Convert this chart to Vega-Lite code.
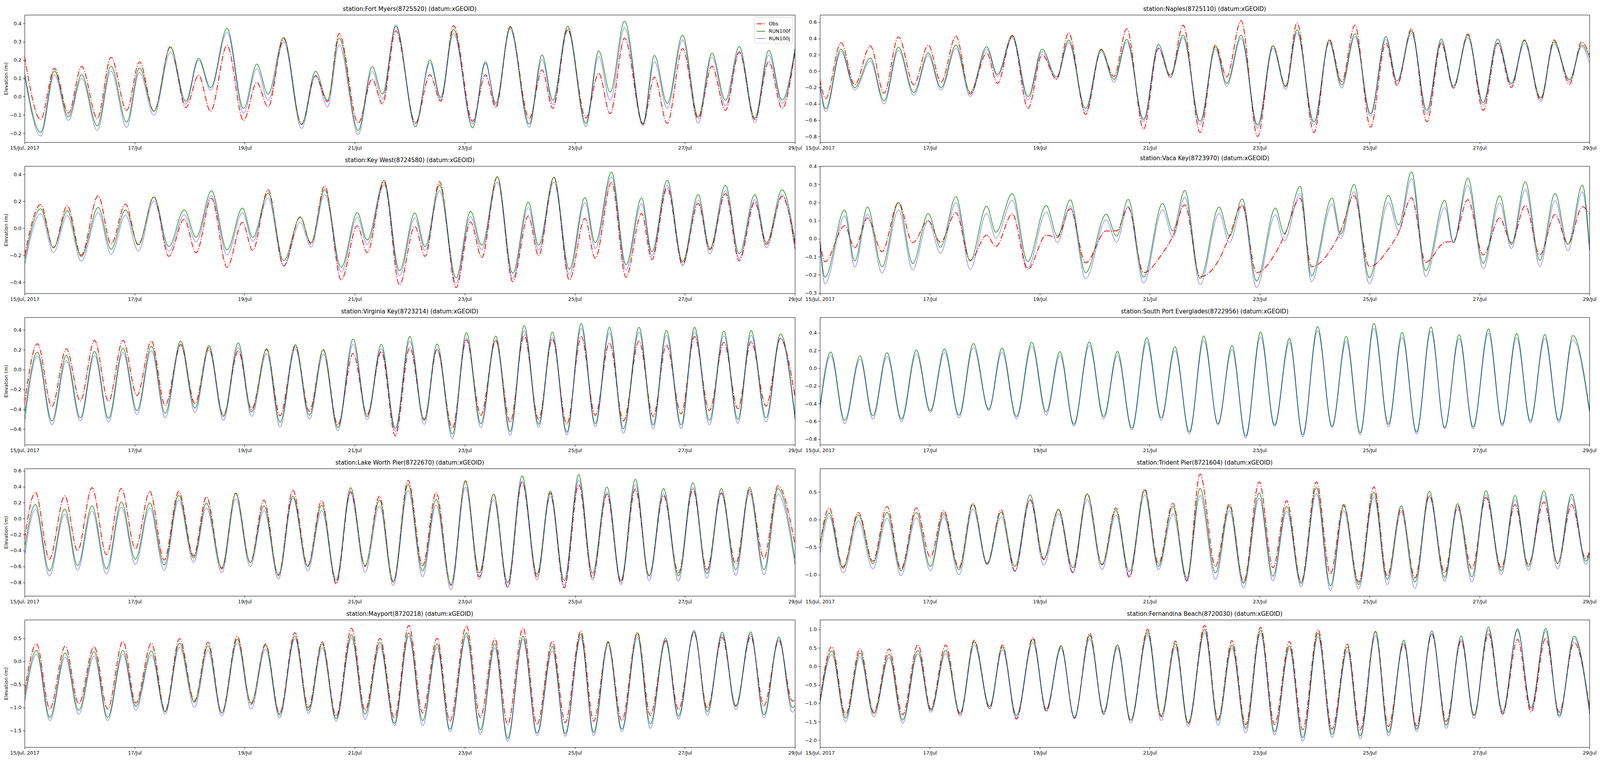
{
  "$schema": "https://vega.github.io/schema/vega-lite/v6.json",
  "background": "white",
  "padding": {"left": 8, "top": 15, "right": 2, "bottom": 2},
  "datasets": {
    "p0": [
      {"h":0,"o":0.22,"f":0.13,"j":0.115},{"h":7.0,"o":-0.125,"f":-0.195,"j":-0.215},{"h":13.0,"o":0.155,"f":0.14,"j":0.12},{"h":19.1,"o":-0.09,"f":-0.11,"j":-0.13},
      {"h":24.9,"o":0.165,"f":0.12,"j":0.10},{"h":31.7,"o":-0.12,"f":-0.16,"j":-0.185},{"h":37.7,"o":0.215,"f":0.167,"j":0.14},{"h":44.5,"o":-0.075,"f":-0.14,"j":-0.168},
      {"h":50.1,"o":0.19,"f":0.157,"j":0.133},{"h":56.4,"o":-0.08,"f":-0.08,"j":-0.103},{"h":63.6,"o":0.274,"f":0.27,"j":0.243},{"h":70.3,"o":-0.06,"f":-0.025,"j":-0.04},
      {"h":75.9,"o":0.117,"f":0.21,"j":0.2},{"h":81.1,"o":-0.08,"f":0.05,"j":0.035},{"h":88.3,"o":0.28,"f":0.373,"j":0.352},{"h":95.5,"o":-0.13,"f":-0.065,"j":-0.09},
      {"h":101.3,"o":0.078,"f":0.178,"j":0.153},{"h":106.2,"o":-0.057,"f":0.014,"j":-0.02},{"h":113.0,"o":0.317,"f":0.324,"j":0.3},{"h":120.8,"o":-0.15,"f":-0.153,"j":-0.174},
      {"h":126.9,"o":0.114,"f":0.139,"j":0.117},{"h":132.1,"o":-0.028,"f":-0.02,"j":-0.057},{"h":137.2,"o":0.345,"f":0.32,"j":0.285},{"h":145.5,"o":-0.145,"f":-0.185,"j":-0.206},
      {"h":151.6,"o":0.096,"f":0.164,"j":0.139},{"h":156.1,"o":-0.04,"f":0.014,"j":-0.014},{"h":161.9,"o":0.36,"f":0.384,"j":0.393},{"h":170.5,"o":-0.145,"f":-0.164,"j":-0.146},
      {"h":176.8,"o":0.12,"f":0.2,"j":0.186},{"h":181.5,"o":-0.025,"f":-0.004,"j":-0.018},{"h":187.1,"o":0.388,"f":0.367,"j":0.345},{"h":195.4,"o":-0.135,"f":-0.17,"j":-0.15},
      {"h":201.0,"o":0.12,"f":0.185,"j":0.194},{"h":205.5,"o":-0.06,"f":-0.036,"j":-0.05},{"h":211.8,"o":0.38,"f":0.384,"j":0.369},{"h":220.1,"o":-0.12,"f":-0.15,"j":-0.167},
      {"h":225.7,"o":0.146,"f":0.228,"j":0.203},{"h":230.4,"o":-0.064,"f":-0.02,"j":-0.043},{"h":236.9,"o":0.37,"f":0.384,"j":0.363},{"h":244.8,"o":-0.117,"f":-0.146,"j":-0.164},
      {"h":250.4,"o":0.128,"f":0.25,"j":0.22},{"h":255.4,"o":-0.093,"f":0.025,"j":-0.02},{"h":261.7,"o":0.32,"f":0.413,"j":0.377},{"h":269.7,"o":-0.15,"f":-0.146,"j":-0.16},
      {"h":274.7,"o":0.107,"f":0.225,"j":0.192},{"h":280.3,"o":-0.146,"f":-0.036,"j":-0.064},{"h":287.0,"o":0.263,"f":0.336,"j":0.31},{"h":293.8,"o":-0.12,"f":-0.11,"j":-0.146},
      {"h":299.8,"o":0.167,"f":0.238,"j":0.217},{"h":305.7,"o":-0.075,"f":-0.02,"j":-0.05},{"h":311.7,"o":0.242,"f":0.274,"j":0.249},{"h":318.5,"o":-0.125,"f":-0.117,"j":-0.142},
      {"h":324.6,"o":0.192,"f":0.253,"j":0.228},{"h":330.4,"o":-0.064,"f":-0.018,"j":-0.036},{"h":336,"o":0.242,"f":0.263,"j":0.242}
    ],
    "p1": [
      {"h":0,"o":-0.1,"f":-0.15,"j":-0.16},{"h":2.5,"o":-0.335,"f":-0.46,"j":-0.495},{"h":9.2,"o":0.35,"f":0.27,"j":0.24},{"h":15.2,"o":-0.167,"f":-0.2,"j":-0.23},
      {"h":22.0,"o":0.31,"f":0.16,"j":0.123},{"h":28.0,"o":-0.27,"f":-0.36,"j":-0.4},{"h":34.3,"o":0.42,"f":0.295,"j":0.255},{"h":41.0,"o":-0.167,"f":-0.26,"j":-0.295},
      {"h":47.3,"o":0.32,"f":0.223,"j":0.19},{"h":52.9,"o":-0.135,"f":-0.2,"j":-0.23},{"h":59.4,"o":0.43,"f":0.32,"j":0.28},{"h":65.6,"o":-0.28,"f":-0.26,"j":-0.31},
      {"h":72.8,"o":0.223,"f":0.3,"j":0.27},{"h":77.5,"o":-0.15,"f":-0.04,"j":-0.064},{"h":84.0,"o":0.43,"f":0.44,"j":0.41},{"h":90.9,"o":-0.455,"f":-0.31,"j":-0.35},
      {"h":97.0,"o":0.2,"f":0.27,"j":0.24},{"h":103.3,"o":-0.096,"f":-0.07,"j":-0.1},{"h":108.6,"o":0.47,"f":0.38,"j":0.35},{"h":116.0,"o":-0.53,"f":-0.455,"j":-0.495},
      {"h":122.8,"o":0.263,"f":0.27,"j":0.24},{"h":128.4,"o":-0.064,"f":-0.1,"j":-0.135},{"h":134.0,"o":0.52,"f":0.39,"j":0.36},{"h":141.3,"o":-0.71,"f":-0.59,"j":-0.62},
      {"h":147.8,"o":0.28,"f":0.327,"j":0.287},{"h":153.0,"o":-0.07,"f":-0.048,"j":-0.08},{"h":158.6,"o":0.563,"f":0.44,"j":0.41},{"h":166.0,"o":-0.75,"f":-0.614,"j":-0.654},
      {"h":172.7,"o":0.32,"f":0.3,"j":0.27},{"h":177.6,"o":-0.07,"f":-0.15,"j":-0.183},{"h":183.9,"o":0.62,"f":0.44,"j":0.4},{"h":191.1,"o":-0.8,"f":-0.66,"j":-0.7},
      {"h":197.8,"o":0.315,"f":0.31,"j":0.28},{"h":203.4,"o":-0.183,"f":-0.19,"j":-0.223},{"h":208.3,"o":0.59,"f":0.505,"j":0.47},{"h":215.7,"o":-0.75,"f":-0.62,"j":-0.66},
      {"h":222.4,"o":0.39,"f":0.375,"j":0.35},{"h":227.8,"o":-0.128,"f":-0.167,"j":-0.207},{"h":233.6,"o":0.566,"f":0.458,"j":0.423},{"h":240.4,"o":-0.686,"f":-0.52,"j":-0.55},
      {"h":247.1,"o":0.343,"f":0.423,"j":0.39},{"h":252.0,"o":-0.175,"f":-0.12,"j":-0.15},{"h":258.3,"o":0.52,"f":0.494,"j":0.462},{"h":265.0,"o":-0.62,"f":-0.48,"j":-0.526},
      {"h":271.3,"o":0.343,"f":0.394,"j":0.36},{"h":276.6,"o":-0.207,"f":-0.183,"j":-0.207},{"h":282.9,"o":0.455,"f":0.44,"j":0.41},{"h":289.6,"o":-0.48,"f":-0.383,"j":-0.415},
      {"h":295.9,"o":0.343,"f":0.394,"j":0.35},{"h":301.9,"o":-0.2,"f":-0.15,"j":-0.175},{"h":307.6,"o":0.383,"f":0.375,"j":0.343},{"h":314.7,"o":-0.35,"f":-0.327,"j":-0.375},
      {"h":320.5,"o":0.383,"f":0.36,"j":0.335},{"h":327.3,"o":-0.16,"f":-0.104,"j":-0.128},{"h":332.6,"o":0.36,"f":0.32,"j":0.3},{"h":336,"o":0.2,"f":0.167,"j":0.104}
    ],
    "p2": [
      {"h":0,"o":-0.2,"f":-0.24,"j":-0.276},{"h":7.0,"o":0.176,"f":0.145,"j":0.108},{"h":12.6,"o":-0.145,"f":-0.145,"j":-0.18},{"h":18.6,"o":0.167,"f":0.13,"j":0.094},
      {"h":24.7,"o":-0.2,"f":-0.21,"j":-0.244},{"h":32.1,"o":0.242,"f":0.155,"j":0.116},{"h":37.7,"o":-0.116,"f":-0.155,"j":-0.194},{"h":44.0,"o":0.18,"f":0.136,"j":0.097},
      {"h":49.6,"o":-0.126,"f":-0.12,"j":-0.17},{"h":56.4,"o":0.234,"f":0.232,"j":0.203},{"h":62.9,"o":-0.208,"f":-0.135,"j":-0.17},{"h":69.6,"o":0.068,"f":0.138,"j":0.1},
      {"h":74.8,"o":-0.182,"f":-0.066,"j":-0.1},{"h":81.5,"o":0.223,"f":0.278,"j":0.242},{"h":88.3,"o":-0.29,"f":-0.16,"j":-0.198},{"h":95.0,"o":0.044,"f":0.15,"j":0.116},
      {"h":99.5,"o":-0.165,"f":-0.068,"j":-0.097},{"h":106.2,"o":0.286,"f":0.26,"j":0.225},{"h":113.0,"o":-0.28,"f":-0.24,"j":-0.28},{"h":120.2,"o":0.085,"f":0.082,"j":0.044},
      {"h":124.9,"o":-0.116,"f":-0.107,"j":-0.14},{"h":130.9,"o":0.315,"f":0.286,"j":0.252},{"h":138.1,"o":-0.383,"f":-0.29,"j":-0.325},{"h":145.1,"o":0.019,"f":0.116,"j":0.082},
      {"h":149.4,"o":-0.18,"f":-0.087,"j":-0.12},{"h":156.8,"o":0.344,"f":0.356,"j":0.324},{"h":163.5,"o":-0.42,"f":-0.315,"j":-0.353},{"h":170.2,"o":0.015,"f":0.113,"j":0.077},
      {"h":174.7,"o":-0.208,"f":-0.135,"j":-0.165},{"h":181.0,"o":0.347,"f":0.32,"j":0.28},{"h":188.2,"o":-0.44,"f":-0.368,"j":-0.407},{"h":194.5,"o":0.048,"f":0.126,"j":0.087},
      {"h":199.4,"o":-0.218,"f":-0.126,"j":-0.16},{"h":206.2,"o":0.383,"f":0.383,"j":0.344},{"h":212.9,"o":-0.397,"f":-0.334,"j":-0.373},{"h":219.7,"o":0.092,"f":0.194,"j":0.155},
      {"h":224.2,"o":-0.203,"f":-0.126,"j":-0.16},{"h":230.9,"o":0.378,"f":0.38,"j":0.344},{"h":237.6,"o":-0.383,"f":-0.305,"j":-0.344},{"h":244.4,"o":0.073,"f":0.228,"j":0.19},
      {"h":248.9,"o":-0.223,"f":-0.107,"j":-0.15},{"h":256.0,"o":0.341,"f":0.418,"j":0.383},{"h":262.3,"o":-0.363,"f":-0.27,"j":-0.31},{"h":269.1,"o":0.111,"f":0.225,"j":0.184},
      {"h":273.6,"o":-0.232,"f":-0.174,"j":-0.203},{"h":280.3,"o":0.3,"f":0.356,"j":0.32},{"h":287.0,"o":-0.266,"f":-0.247,"j":-0.28},{"h":293.8,"o":0.184,"f":0.25,"j":0.211},
      {"h":298.9,"o":-0.16,"f":-0.15,"j":-0.189},{"h":305.7,"o":0.257,"f":0.32,"j":0.28},{"h":311.7,"o":-0.242,"f":-0.189,"j":-0.223},{"h":318.5,"o":0.194,"f":0.25,"j":0.213},
      {"h":323.6,"o":-0.12,"f":-0.107,"j":-0.145},{"h":330.4,"o":0.237,"f":0.286,"j":0.25},{"h":336,"o":-0.12,"f":-0.097,"j":-0.155}
    ],
    "p3": [
      {"h":0,"o":-0.014,"f":-0.014,"j":-0.02},{"h":2.2,"o":-0.128,"f":-0.213,"j":-0.25},{"h":10.8,"o":0.072,"f":0.159,"j":0.126},{"h":15.2,"o":-0.05,"f":-0.123,"j":-0.157},
      {"h":20.8,"o":0.115,"f":0.175,"j":0.137},{"h":27.1,"o":-0.072,"f":-0.155,"j":-0.19},{"h":34.3,"o":0.2,"f":0.2,"j":0.159},{"h":40.5,"o":-0.022,"f":-0.137,"j":-0.172},
      {"h":47.3,"o":0.1,"f":0.139,"j":0.1},{"h":52.6,"o":-0.02,"f":-0.047,"j":-0.08},{"h":59.4,"o":0.144,"f":0.232,"j":0.2},{"h":65.6,"o":-0.12,"f":-0.123,"j":-0.17},
      {"h":72.8,"o":0.02,"f":0.18,"j":0.14},{"h":76.8,"o":-0.043,"f":0.036,"j":0.004},{"h":84.0,"o":0.137,"f":0.25,"j":0.213},{"h":90.7,"o":-0.17,"f":-0.126,"j":-0.162},
      {"h":98.8,"o":0.02,"f":0.184,"j":0.148},{"h":103.7,"o":0.007,"f":0.014,"j":-0.022},{"h":109.3,"o":0.166,"f":0.215,"j":0.18},{"h":116.0,"o":-0.133,"f":-0.188,"j":-0.222},
      {"h":125.0,"o":0.043,"f":0.135,"j":0.105},{"h":129.5,"o":0.043,"f":0.014,"j":-0.02},{"h":134.6,"o":0.173,"f":0.218,"j":0.18},{"h":141.3,"o":-0.188,"f":-0.213,"j":-0.245},
      {"h":149.6,"o":-0.08,"f":0.195,"j":0.161},{"h":154.1,"o":0.014,"f":0.043,"j":0.007},{"h":159.3,"o":0.188,"f":0.267,"j":0.23},{"h":166.0,"o":-0.21,"f":-0.22,"j":-0.253},
      {"h":174.3,"o":-0.115,"f":0.175,"j":0.14},{"h":178.8,"o":0.014,"f":0.014,"j":-0.022},{"h":184.4,"o":0.188,"f":0.22,"j":0.182},{"h":190.6,"o":-0.188,"f":-0.234,"j":-0.27},
      {"h":198.9,"o":-0.08,"f":0.17,"j":0.133},{"h":202.7,"o":0.014,"f":0.029,"j":-0.014},{"h":209.7,"o":0.224,"f":0.29,"j":0.25},{"h":214.6,"o":-0.155,"f":-0.206,"j":-0.238},
      {"h":223.6,"o":-0.05,"f":0.225,"j":0.191},{"h":227.4,"o":0.043,"f":0.025,"j":0.0},{"h":233.2,"o":0.238,"f":0.3,"j":0.26},{"h":239.9,"o":-0.155,"f":-0.216,"j":-0.25},
      {"h":248.2,"o":-0.058,"f":0.24,"j":0.2},{"h":252.7,"o":0.036,"f":0.076,"j":0.043},{"h":258.3,"o":0.227,"f":0.37,"j":0.332},{"h":264.5,"o":-0.13,"f":-0.177,"j":-0.21},
      {"h":272.8,"o":-0.02,"f":0.213,"j":0.173},{"h":276.6,"o":-0.014,"f":-0.022,"j":-0.022},{"h":282.9,"o":0.216,"f":0.335,"j":0.296},{"h":289.6,"o":-0.09,"f":-0.136,"j":-0.166},
      {"h":296.8,"o":0.115,"f":0.238,"j":0.198},{"h":301.9,"o":-0.022,"f":-0.032,"j":-0.054},{"h":308.0,"o":0.184,"f":0.314,"j":0.273},{"h":314.3,"o":-0.09,"f":-0.119,"j":-0.152},
      {"h":321.0,"o":0.134,"f":0.25,"j":0.21},{"h":326.6,"o":-0.029,"f":-0.032,"j":-0.065},{"h":332.9,"o":0.177,"f":0.297,"j":0.26},{"h":336,"o":0.137,"f":-0.032,"j":-0.068}
    ],
    "p4": [
      {"h":0,"o":-0.34,"f":-0.46,"j":-0.53},{"h":5.6,"o":0.26,"f":0.177,"j":0.138},{"h":11.9,"o":-0.373,"f":-0.518,"j":-0.557},{"h":18.2,"o":0.21,"f":0.144,"j":0.092},
      {"h":24.3,"o":-0.315,"f":-0.485,"j":-0.518},{"h":30.5,"o":0.295,"f":0.183,"j":0.144},{"h":36.6,"o":-0.32,"f":-0.49,"j":-0.53},{"h":42.9,"o":0.295,"f":0.216,"j":0.173},
      {"h":49.0,"o":-0.26,"f":-0.413,"j":-0.452},{"h":55.3,"o":0.288,"f":0.236,"j":0.19},{"h":61.3,"o":-0.36,"f":-0.44,"j":-0.485},{"h":68.1,"o":0.255,"f":0.288,"j":0.242},
      {"h":74.3,"o":-0.34,"f":-0.387,"j":-0.433},{"h":80.4,"o":0.223,"f":0.242,"j":0.197},{"h":86.7,"o":-0.46,"f":-0.472,"j":-0.51},{"h":93.2,"o":0.19,"f":0.269,"j":0.223},
      {"h":99.0,"o":-0.4,"f":-0.426,"j":-0.472},{"h":105.6,"o":0.203,"f":0.21,"j":0.164},{"h":111.4,"o":-0.465,"f":-0.53,"j":-0.577},{"h":118.1,"o":0.236,"f":0.252,"j":0.21},
      {"h":124.2,"o":-0.42,"f":-0.46,"j":-0.5},{"h":130.3,"o":0.197,"f":0.203,"j":0.155},{"h":136.6,"o":-0.557,"f":-0.583,"j":-0.616},{"h":143.3,"o":0.164,"f":0.308,"j":0.255},
      {"h":149.4,"o":-0.452,"f":-0.472,"j":-0.505},{"h":155.6,"o":0.183,"f":0.255,"j":0.21},{"h":161.7,"o":-0.668,"f":-0.59,"j":-0.622},{"h":168.0,"o":0.223,"f":0.334,"j":0.288},
      {"h":174.3,"o":-0.5,"f":-0.51,"j":-0.553},{"h":179.9,"o":0.203,"f":0.258,"j":0.21},{"h":186.6,"o":-0.59,"f":-0.649,"j":-0.695},{"h":192.7,"o":0.3,"f":0.374,"j":0.321},
      {"h":199.0,"o":-0.46,"f":-0.544,"j":-0.583},{"h":205.5,"o":0.3,"f":0.338,"j":0.288},{"h":211.8,"o":-0.53,"f":-0.622,"j":-0.662},{"h":217.9,"o":0.347,"f":0.443,"j":0.393},
      {"h":224.2,"o":-0.5,"f":-0.55,"j":-0.583},{"h":230.2,"o":0.308,"f":0.377,"j":0.325},{"h":236.5,"o":-0.55,"f":-0.63,"j":-0.658},{"h":242.8,"o":0.334,"f":0.465,"j":0.42},
      {"h":248.9,"o":-0.46,"f":-0.544,"j":-0.577},{"h":255.1,"o":0.269,"f":0.426,"j":0.374},{"h":261.2,"o":-0.518,"f":-0.596,"j":-0.642},{"h":268.0,"o":0.288,"f":0.426,"j":0.377},
      {"h":274.2,"o":-0.472,"f":-0.557,"j":-0.596},{"h":279.9,"o":0.249,"f":0.396,"j":0.347},{"h":286.4,"o":-0.446,"f":-0.557,"j":-0.596},{"h":292.2,"o":0.334,"f":0.426,"j":0.38},
      {"h":298.7,"o":-0.413,"f":-0.51,"j":-0.557},{"h":305.0,"o":0.275,"f":0.387,"j":0.34},{"h":311.1,"o":-0.393,"f":-0.5,"j":-0.544},{"h":316.9,"o":0.282,"f":0.393,"j":0.347},
      {"h":323.4,"o":-0.367,"f":-0.485,"j":-0.527},{"h":329.7,"o":0.315,"f":0.36,"j":0.317},{"h":336,"o":-0.27,"f":-0.46,"j":-0.5}
    ],
    "p5": [
      {"h":0,"f":-0.44,"j":-0.485},{"h":4.7,"f":0.184,"j":0.147},{"h":10.8,"f":-0.588,"j":-0.625},{"h":17.5,"f":0.14,"j":0.103},
      {"h":23.1,"f":-0.537,"j":-0.573},{"h":29.3,"f":0.176,"j":0.135},{"h":35.6,"f":-0.573,"j":-0.603},{"h":42.1,"f":0.206,"j":0.162},
      {"h":48.2,"f":-0.478,"j":-0.5},{"h":54.4,"f":0.22,"j":0.18},{"h":60.7,"f":-0.53,"j":-0.56},{"h":67.0,"f":0.28,"j":0.235},
      {"h":73.7,"f":-0.463,"j":-0.478},{"h":79.5,"f":0.228,"j":0.184},{"h":85.8,"f":-0.544,"j":-0.573},{"h":92.5,"f":0.294,"j":0.25},
      {"h":98.8,"f":-0.493,"j":-0.53},{"h":104.8,"f":0.188,"j":0.147},{"h":110.9,"f":-0.632,"j":-0.654},{"h":117.6,"f":0.297,"j":0.257},
      {"h":123.9,"f":-0.544,"j":-0.573},{"h":129.9,"f":0.19,"j":0.147},{"h":136.2,"f":-0.676,"j":-0.7},{"h":142.7,"f":0.345,"j":0.3},
      {"h":149.0,"f":-0.56,"j":-0.588},{"h":155.0,"f":0.243,"j":0.2},{"h":161.3,"f":-0.72,"j":-0.743},{"h":167.6,"f":0.365,"j":0.316},
      {"h":173.8,"f":-0.625,"j":-0.64},{"h":179.9,"f":0.257,"j":0.213},{"h":185.9,"f":-0.765,"j":-0.79},{"h":192.4,"f":0.41,"j":0.356},
      {"h":198.5,"f":-0.64,"j":-0.66},{"h":205.0,"f":0.338,"j":0.294},{"h":210.8,"f":-0.75,"j":-0.776},{"h":217.3,"f":0.47,"j":0.426},
      {"h":223.6,"f":-0.654,"j":-0.673},{"h":229.8,"f":0.36,"j":0.31},{"h":235.9,"f":-0.728,"j":-0.753},{"h":241.9,"f":0.507,"j":0.456},
      {"h":248.2,"f":-0.632,"j":-0.662},{"h":254.2,"f":0.404,"j":0.353},{"h":260.5,"f":-0.72,"j":-0.743},{"h":266.8,"f":0.466,"j":0.42},
      {"h":272.8,"f":-0.67,"j":-0.684},{"h":279.1,"f":0.38,"j":0.338},{"h":285.2,"f":-0.662,"j":-0.684},{"h":291.9,"f":0.444,"j":0.397},
      {"h":297.9,"f":-0.632,"j":-0.654},{"h":304.2,"f":0.393,"j":0.345},{"h":310.2,"f":-0.596,"j":-0.618},{"h":316.5,"f":0.38,"j":0.338},
      {"h":322.6,"f":-0.588,"j":-0.615},{"h":328.8,"f":0.37,"j":0.323},{"h":336,"f":-0.463,"j":-0.493}
    ],
    "p6": [
      {"h":0,"o":-0.256,"f":-0.37,"j":-0.468},{"h":4.7,"o":0.331,"f":0.176,"j":0.116},{"h":10.8,"o":-0.509,"f":-0.656,"j":-0.72},{"h":17.5,"o":0.285,"f":0.119,"j":0.057},
      {"h":23.1,"o":-0.403,"f":-0.59,"j":-0.648},{"h":29.4,"o":0.388,"f":0.16,"j":0.095},{"h":35.7,"o":-0.452,"f":-0.631,"j":-0.697},{"h":42.2,"o":0.38,"f":0.209,"j":0.144},
      {"h":48.3,"o":-0.378,"f":-0.509,"j":-0.574},{"h":54.6,"o":0.34,"f":0.197,"j":0.135},{"h":60.9,"o":-0.52,"f":-0.582,"j":-0.648},{"h":67.2,"o":0.34,"f":0.29,"j":0.233},
      {"h":73.7,"o":-0.468,"f":-0.493,"j":-0.547},{"h":79.3,"o":0.274,"f":0.193,"j":0.135},{"h":86.0,"o":-0.631,"f":-0.615,"j":-0.68},{"h":92.1,"o":0.318,"f":0.315,"j":0.25},
      {"h":98.4,"o":-0.55,"f":-0.55,"j":-0.602},{"h":104.4,"o":0.233,"f":0.16,"j":0.103},{"h":110.7,"o":-0.713,"f":-0.705,"j":-0.759},{"h":117.0,"o":0.356,"f":0.282,"j":0.258},
      {"h":123.5,"o":-0.59,"f":-0.6,"j":-0.656},{"h":129.6,"o":0.225,"f":0.168,"j":0.103},{"h":135.9,"o":-0.82,"f":-0.77,"j":-0.803},{"h":142.2,"o":0.34,"f":0.388,"j":0.323},
      {"h":148.5,"o":-0.6,"f":-0.59,"j":-0.672},{"h":154.8,"o":0.282,"f":0.233,"j":0.16},{"h":160.8,"o":-0.795,"f":-0.786,"j":-0.84},{"h":167.3,"o":0.481,"f":0.429,"j":0.356},
      {"h":173.6,"o":-0.59,"f":-0.656,"j":-0.729},{"h":179.5,"o":0.328,"f":0.241,"j":0.171},{"h":186.0,"o":-0.835,"f":-0.827,"j":-0.892},{"h":192.3,"o":0.475,"f":0.47,"j":0.396},
      {"h":198.3,"o":-0.73,"f":-0.68,"j":-0.762},{"h":204.6,"o":0.307,"f":0.307,"j":0.241},{"h":210.7,"o":-0.86,"f":-0.803,"j":-0.868},{"h":217.0,"o":0.462,"f":0.535,"j":0.47},
      {"h":223.5,"o":-0.73,"f":-0.697,"j":-0.77},{"h":229.3,"o":0.323,"f":0.347,"j":0.285},{"h":235.4,"o":-0.868,"f":-0.778,"j":-0.835},{"h":241.7,"o":0.429,"f":0.551,"j":0.486},
      {"h":247.7,"o":-0.745,"f":-0.688,"j":-0.77},{"h":254.0,"o":0.307,"f":0.396,"j":0.331},{"h":260.1,"o":-0.803,"f":-0.778,"j":-0.827},{"h":266.4,"o":0.372,"f":0.494,"j":0.429},
      {"h":272.4,"o":-0.713,"f":-0.72,"j":-0.778},{"h":278.7,"o":0.29,"f":0.377,"j":0.315},{"h":285.2,"o":-0.68,"f":-0.72,"j":-0.786},{"h":291.5,"o":0.364,"f":0.449,"j":0.388},
      {"h":297.6,"o":-0.64,"f":-0.688,"j":-0.745},{"h":303.9,"o":0.323,"f":0.377,"j":0.315},{"h":310.2,"o":-0.566,"f":-0.64,"j":-0.713},{"h":316.2,"o":0.364,"f":0.393,"j":0.331},
      {"h":322.5,"o":-0.5,"f":-0.64,"j":-0.705},{"h":328.6,"o":0.413,"f":0.377,"j":0.307},{"h":336,"o":-0.32,"f":-0.5,"j":-0.574}
    ],
    "p7": [
      {"h":0,"o":-0.45,"f":-0.47,"j":-0.64},{"h":4.0,"o":0.212,"f":0.118,"j":0.059},{"h":10.1,"o":-0.86,"f":-0.885,"j":-0.967},{"h":16.8,"o":0.13,"f":0.083,"j":-0.024},
      {"h":23.1,"o":-0.755,"f":-0.8,"j":-0.896},{"h":29.3,"o":0.236,"f":0.13,"j":0.024},{"h":35.4,"o":-0.896,"f":-0.93,"j":-1.014},{"h":42.1,"o":0.212,"f":0.13,"j":0.035},
      {"h":48.2,"o":-0.684,"f":-0.85,"j":-0.93},{"h":54.0,"o":0.165,"f":0.106,"j":0.047},{"h":60.7,"o":-0.873,"f":-0.908,"j":-1.0},{"h":66.8,"o":0.295,"f":0.271,"j":0.189},
      {"h":73.0,"o":-0.8,"f":-0.79,"j":-0.825},{"h":79.1,"o":0.177,"f":0.13,"j":0.047},{"h":85.1,"o":-0.93,"f":-0.85,"j":-0.943},{"h":91.8,"o":0.365,"f":0.448,"j":0.354},
      {"h":97.7,"o":-0.73,"f":-0.708,"j":-0.825},{"h":104.2,"o":0.177,"f":0.189,"j":0.106},{"h":110.4,"o":-0.955,"f":-0.873,"j":-0.967},{"h":116.7,"o":0.472,"f":0.46,"j":0.365},
      {"h":123.2,"o":-0.814,"f":-0.825,"j":-0.908},{"h":129.2,"o":0.212,"f":0.165,"j":0.083},{"h":135.1,"o":-1.05,"f":-0.943,"j":-1.026},{"h":141.8,"o":0.554,"f":0.531,"j":0.448},
      {"h":147.8,"o":-0.8,"f":-0.85,"j":-0.908},{"h":154.1,"o":0.295,"f":0.236,"j":0.106},{"h":160.2,"o":-1.108,"f":-1.06,"j":-1.12},{"h":166.0,"o":0.825,"f":0.566,"j":0.436},
      {"h":172.7,"o":-0.85,"f":-0.967,"j":-1.085},{"h":178.8,"o":0.283,"f":0.248,"j":0.165},{"h":185.0,"o":-1.132,"f":-1.156,"j":-1.24},{"h":191.8,"o":0.684,"f":0.483,"j":0.389},
      {"h":197.8,"o":-0.873,"f":-1.026,"j":-1.113},{"h":203.8,"o":0.342,"f":0.236,"j":0.153},{"h":210.1,"o":-1.132,"f":-1.156,"j":-1.215},{"h":216.8,"o":0.684,"f":0.578,"j":0.472},
      {"h":222.9,"o":-0.99,"f":-1.2,"j":-1.285},{"h":228.7,"o":0.271,"f":0.248,"j":0.165},{"h":235.2,"o":-1.132,"f":-1.18,"j":-1.26},{"h":241.9,"o":0.594,"f":0.495,"j":0.413},
      {"h":247.7,"o":-1.026,"f":-1.085,"j":-1.18},{"h":253.8,"o":0.2,"f":0.248,"j":0.142},{"h":259.8,"o":-1.06,"f":-1.132,"j":-1.25},{"h":266.1,"o":0.436,"f":0.512,"j":0.425},
      {"h":272.8,"o":-0.967,"f":-1.05,"j":-1.12},{"h":278.4,"o":0.248,"f":0.288,"j":0.2},{"h":284.7,"o":-0.896,"f":-1.038,"j":-1.132},{"h":290.8,"o":0.4,"f":0.524,"j":0.448},
      {"h":297.5,"o":-0.873,"f":-0.93,"j":-1.0},{"h":303.5,"o":0.271,"f":0.436,"j":0.358},{"h":309.3,"o":-0.814,"f":-0.85,"j":-0.92},{"h":316.1,"o":0.318,"f":0.519,"j":0.448},
      {"h":322.1,"o":-0.79,"f":-0.8,"j":-0.896},{"h":328.2,"o":0.271,"f":0.46,"j":0.389},{"h":334.4,"o":-0.708,"f":-0.755,"j":-0.814},{"h":336,"o":-0.566,"f":-0.613,"j":-0.66}
    ],
    "p8": [
      {"h":0,"o":-0.635,"f":-0.775,"j":-0.888},{"h":5.2,"o":0.38,"f":0.24,"j":0.155},{"h":11.0,"o":-1.03,"f":-1.213,"j":-1.283},{"h":17.7,"o":0.33,"f":0.183,"j":0.093},
      {"h":23.6,"o":-0.917,"f":-1.058,"j":-1.142},{"h":30.3,"o":0.324,"f":0.21,"j":0.113},{"h":36.2,"o":-1.03,"f":-1.213,"j":-1.283},{"h":42.9,"o":0.437,"f":0.24,"j":0.155},
      {"h":48.5,"o":-0.902,"f":-0.973,"j":-1.058},{"h":55.3,"o":0.395,"f":0.226,"j":0.141},{"h":61.3,"o":-1.072,"f":-1.086,"j":-1.137},{"h":67.6,"o":0.494,"f":0.395,"j":0.31},
      {"h":74.1,"o":-0.86,"f":-0.888,"j":-1.0},{"h":80.0,"o":0.415,"f":0.338,"j":0.24},{"h":86.0,"o":-1.114,"f":-1.114,"j":-1.184},{"h":92.8,"o":0.544,"f":0.48,"j":0.403},
      {"h":98.8,"o":-0.93,"f":-0.902,"j":-1.03},{"h":105.1,"o":0.38,"f":0.352,"j":0.268},{"h":111.2,"o":-1.128,"f":-1.156,"j":-1.227},{"h":117.9,"o":0.62,"f":0.55,"j":0.494},
      {"h":123.8,"o":-1.0,"f":-1.058,"j":-1.128},{"h":129.8,"o":0.423,"f":0.38,"j":0.296},{"h":135.9,"o":-1.184,"f":-1.24,"j":-1.297},{"h":142.6,"o":0.72,"f":0.578,"j":0.508},
      {"h":148.5,"o":-1.058,"f":-1.142,"j":-1.255},{"h":155.0,"o":0.5,"f":0.409,"j":0.324},{"h":161.3,"o":-1.227,"f":-1.34,"j":-1.396},{"h":167.6,"o":0.78,"f":0.62,"j":0.55},
      {"h":173.6,"o":-1.114,"f":-1.283,"j":-1.396},{"h":179.9,"o":0.5,"f":0.38,"j":0.302},{"h":185.5,"o":-1.297,"f":-1.466,"j":-1.523},{"h":192.7,"o":0.77,"f":0.62,"j":0.55},
      {"h":198.8,"o":-1.213,"f":-1.48,"j":-1.579},{"h":205.1,"o":0.494,"f":0.38,"j":0.296},{"h":210.7,"o":-1.368,"f":-1.664,"j":-1.734},{"h":217.4,"o":0.725,"f":0.544,"j":0.48},
      {"h":223.5,"o":-1.368,"f":-1.551,"j":-1.607},{"h":230.2,"o":0.437,"f":0.324,"j":0.226},{"h":235.8,"o":-1.325,"f":-1.565,"j":-1.622},{"h":242.6,"o":0.657,"f":0.592,"j":0.522},
      {"h":248.2,"o":-1.297,"f":-1.537,"j":-1.607},{"h":254.5,"o":0.409,"f":0.431,"j":0.352},{"h":260.5,"o":-1.283,"f":-1.466,"j":-1.523},{"h":267.3,"o":0.626,"f":0.606,"j":0.522},
      {"h":272.9,"o":-1.17,"f":-1.354,"j":-1.452},{"h":279.6,"o":0.451,"f":0.508,"j":0.437},{"h":285.2,"o":-1.044,"f":-1.184,"j":-1.255},{"h":292.0,"o":0.62,"f":0.668,"j":0.635},
      {"h":297.8,"o":-1.015,"f":-1.086,"j":-1.17},{"h":304.3,"o":0.522,"f":0.635,"j":0.584},{"h":310.2,"o":-0.959,"f":-0.973,"j":-1.044},{"h":316.7,"o":0.544,"f":0.64,"j":0.592},
      {"h":322.5,"o":-0.959,"f":-1.156,"j":-1.227},{"h":329.0,"o":0.451,"f":0.527,"j":0.48},{"h":334.9,"o":-0.86,"f":-1.0,"j":-1.1},{"h":336,"o":-0.832,"f":-0.96,"j":-1.03}
    ],
    "p9": [
      {"h":0,"o":-0.907,"f":-0.977,"j":-1.048},{"h":5.2,"o":0.533,"f":0.416,"j":0.321},{"h":11.2,"o":-1.313,"f":-1.4,"j":-1.5},{"h":17.5,"o":0.476,"f":0.363,"j":0.258},
      {"h":23.5,"o":-1.242,"f":-1.277,"j":-1.366},{"h":30.2,"o":0.469,"f":0.328,"j":0.24},{"h":36.1,"o":-1.313,"f":-1.454,"j":-1.542},{"h":42.8,"o":0.593,"f":0.434,"j":0.346},
      {"h":48.4,"o":-1.154,"f":-1.19,"j":-1.242},{"h":54.9,"o":0.582,"f":0.434,"j":0.346},{"h":61.2,"o":-1.313,"f":-1.26,"j":-1.348},{"h":67.4,"o":0.71,"f":0.663,"j":0.575},
      {"h":74.1,"o":-1.136,"f":-1.083,"j":-1.154},{"h":79.7,"o":0.582,"f":0.533,"j":0.452},{"h":85.8,"o":-1.429,"f":-1.33,"j":-1.4},{"h":93.0,"o":0.787,"f":0.734,"j":0.646},
      {"h":98.8,"o":-1.224,"f":-1.154,"j":-1.207},{"h":105.3,"o":0.54,"f":0.558,"j":0.487},{"h":111.1,"o":-1.4,"f":-1.383,"j":-1.418},{"h":117.8,"o":0.893,"f":0.84,"j":0.745},
      {"h":123.9,"o":-1.295,"f":-1.242,"j":-1.295},{"h":129.9,"o":0.582,"f":0.582,"j":0.505},{"h":135.7,"o":-1.471,"f":-1.454,"j":-1.535},{"h":143.1,"o":1.006,"f":0.935,"j":0.857},
      {"h":149.0,"o":-1.366,"f":-1.33,"j":-1.471},{"h":155.2,"o":0.688,"f":0.61,"j":0.522},{"h":160.8,"o":-1.56,"f":-1.524,"j":-1.63},{"h":168.0,"o":1.111,"f":0.999,"j":0.91},
      {"h":173.8,"o":-1.436,"f":-1.471,"j":-1.595},{"h":179.9,"o":0.699,"f":0.575,"j":0.505},{"h":185.9,"o":-1.584,"f":-1.683,"j":-1.807},{"h":192.4,"o":1.062,"f":0.981,"j":0.893},
      {"h":198.5,"o":-1.577,"f":-1.771,"j":-1.86},{"h":205.0,"o":0.674,"f":0.558,"j":0.487},{"h":210.8,"o":-1.718,"f":-1.93,"j":-2.036},{"h":217.5,"o":0.999,"f":0.893,"j":0.805},
      {"h":223.6,"o":-1.701,"f":-1.842,"j":-1.93},{"h":230.3,"o":0.603,"f":0.522,"j":0.416},{"h":235.9,"o":-1.718,"f":-1.877,"j":-1.965},{"h":242.6,"o":0.946,"f":0.946,"j":0.84},
      {"h":248.2,"o":-1.63,"f":-1.789,"j":-1.888},{"h":254.9,"o":0.61,"f":0.709,"j":0.628},{"h":260.5,"o":-1.613,"f":-1.701,"j":-1.771},{"h":267.2,"o":0.875,"f":0.956,"j":0.886},
      {"h":273.5,"o":-1.489,"f":-1.595,"j":-1.683},{"h":280.0,"o":0.699,"f":0.822,"j":0.734},{"h":285.6,"o":-1.313,"f":-1.33,"j":-1.418},{"h":291.9,"o":0.893,"f":1.062,"j":0.988},
      {"h":298.1,"o":-1.277,"f":-1.224,"j":-1.313},{"h":304.6,"o":0.734,"f":1.016,"j":0.981},{"h":310.5,"o":-1.242,"f":-1.119,"j":-1.171},{"h":316.9,"o":0.769,"f":1.027,"j":0.946},
      {"h":322.8,"o":-1.242,"f":-1.33,"j":-1.383},{"h":329.3,"o":0.646,"f":0.822,"j":0.759},{"h":336,"o":-1.083,"f":-1.171,"j":-1.277}
    ]
  },
  "columns": 2,
  "bounds": "flush",
  "spacing": {"row": 61, "column": 64},
  "concat": [
    {
      "title": "station:Fort Myers(8725520) (datum:xGEOID)",
      "width": 1972, "height": 326,
      "data": {"name": "p0"},
      "transform": [{"fold": ["o", "f", "j"], "as": ["s", "v"]}],
      "mark": {"type": "line", "interpolate": "monotone"},
      "encoding": {
        "x": {"field": "h", "type": "quantitative", "scale": {"domain": [0, 336], "nice": false, "zero": false},
              "axis": {"values": [0, 48, 96, 144, 192, 240, 288, 336], "labelExpr": "datum.value == 0 ? '15/Jul, 2017' : (15 + datum.value / 24) + '/Jul'", "title": null}},
        "y": {"field": "v", "type": "quantitative", "scale": {"domain": [-0.249, 0.447], "nice": false, "zero": false},
              "axis": {"values": [-0.2, -0.1, 0, 0.1, 0.2, 0.3, 0.4], "format": ".1f", "title": "Elevation (m)"}},
        "color": {"field": "s", "type": "nominal", "scale": {"domain": ["o", "f", "j"], "range": ["#ff0000", "#008000", "#0000ff"]},
                  "legend": {"orient": "top-right", "title": null, "labelExpr": "datum.label == 'o' ? 'Obs' : datum.label == 'f' ? 'RUN100f' : 'RUN100j'"}},
        "strokeDash": {"field": "s", "type": "nominal", "scale": {"domain": ["o", "f", "j"], "range": [[15, 3.8, 2.4, 3.8], [1, 0], [1, 0]]},
                  "legend": {"orient": "top-right", "title": null, "labelExpr": "datum.label == 'o' ? 'Obs' : datum.label == 'f' ? 'RUN100f' : 'RUN100j'"}},
        "strokeWidth": {"field": "s", "type": "nominal", "scale": {"domain": ["o", "f", "j"], "range": [2, 0.9, 0.9]},
                  "legend": {"orient": "top-right", "title": null, "labelExpr": "datum.label == 'o' ? 'Obs' : datum.label == 'f' ? 'RUN100f' : 'RUN100j'"}}
      }
    },
    {
      "title": "station:Naples(8725110) (datum:xGEOID)",
      "width": 1970, "height": 326,
      "data": {"name": "p1"},
      "transform": [{"fold": ["o", "f", "j"], "as": ["s", "v"]}],
      "mark": {"type": "line", "interpolate": "monotone"},
      "encoding": {
        "x": {"field": "h", "type": "quantitative", "scale": {"domain": [0, 336], "nice": false, "zero": false},
              "axis": {"values": [0, 48, 96, 144, 192, 240, 288, 336], "labelExpr": "datum.value == 0 ? '15/Jul, 2017' : (15 + datum.value / 24) + '/Jul'", "title": null}},
        "y": {"field": "v", "type": "quantitative", "scale": {"domain": [-0.87, 0.69], "nice": false, "zero": false},
              "axis": {"values": [-0.8, -0.6, -0.4, -0.2, 0, 0.2, 0.4, 0.6], "format": ".1f", "title": null}},
        "color": {"field": "s", "type": "nominal", "scale": {"domain": ["o", "f", "j"], "range": ["#ff0000", "#008000", "#0000ff"]}, "legend": null},
        "strokeDash": {"field": "s", "type": "nominal", "scale": {"domain": ["o", "f", "j"], "range": [[15, 3.8, 2.4, 3.8], [1, 0], [1, 0]]}, "legend": null},
        "strokeWidth": {"field": "s", "type": "nominal", "scale": {"domain": ["o", "f", "j"], "range": [2, 0.9, 0.9]}, "legend": null}
      }
    },
    {
      "title": "station:Key West(8724580) (datum:xGEOID)",
      "width": 1972, "height": 326,
      "data": {"name": "p2"},
      "transform": [{"fold": ["o", "f", "j"], "as": ["s", "v"]}],
      "mark": {"type": "line", "interpolate": "monotone"},
      "encoding": {
        "x": {"field": "h", "type": "quantitative", "scale": {"domain": [0, 336], "nice": false, "zero": false},
              "axis": {"values": [0, 48, 96, 144, 192, 240, 288, 336], "labelExpr": "datum.value == 0 ? '15/Jul, 2017' : (15 + datum.value / 24) + '/Jul'", "title": null}},
        "y": {"field": "v", "type": "quantitative", "scale": {"domain": [-0.484, 0.462], "nice": false, "zero": false},
              "axis": {"values": [-0.4, -0.2, 0, 0.2, 0.4], "format": ".1f", "title": "Elevation (m)"}},
        "color": {"field": "s", "type": "nominal", "scale": {"domain": ["o", "f", "j"], "range": ["#ff0000", "#008000", "#0000ff"]}, "legend": null},
        "strokeDash": {"field": "s", "type": "nominal", "scale": {"domain": ["o", "f", "j"], "range": [[15, 3.8, 2.4, 3.8], [1, 0], [1, 0]]}, "legend": null},
        "strokeWidth": {"field": "s", "type": "nominal", "scale": {"domain": ["o", "f", "j"], "range": [2, 0.9, 0.9]}, "legend": null}
      }
    },
    {
      "title": "station:Vaca Key(8723970) (datum:xGEOID)",
      "width": 1970, "height": 326,
      "data": {"name": "p3"},
      "transform": [{"fold": ["o", "f", "j"], "as": ["s", "v"]}],
      "mark": {"type": "line", "interpolate": "monotone"},
      "encoding": {
        "x": {"field": "h", "type": "quantitative", "scale": {"domain": [0, 336], "nice": false, "zero": false},
              "axis": {"values": [0, 48, 96, 144, 192, 240, 288, 336], "labelExpr": "datum.value == 0 ? '15/Jul, 2017' : (15 + datum.value / 24) + '/Jul'", "title": null}},
        "y": {"field": "v", "type": "quantitative", "scale": {"domain": [-0.303, 0.402], "nice": false, "zero": false},
              "axis": {"values": [-0.3, -0.2, -0.1, 0, 0.1, 0.2, 0.3, 0.4], "format": ".1f", "title": null}},
        "color": {"field": "s", "type": "nominal", "scale": {"domain": ["o", "f", "j"], "range": ["#ff0000", "#008000", "#0000ff"]}, "legend": null},
        "strokeDash": {"field": "s", "type": "nominal", "scale": {"domain": ["o", "f", "j"], "range": [[15, 3.8, 2.4, 3.8], [1, 0], [1, 0]]}, "legend": null},
        "strokeWidth": {"field": "s", "type": "nominal", "scale": {"domain": ["o", "f", "j"], "range": [2, 0.9, 0.9]}, "legend": null}
      }
    },
    {
      "title": "station:Virginia Key(8723214) (datum:xGEOID)",
      "width": 1972, "height": 326,
      "data": {"name": "p4"},
      "transform": [{"fold": ["o", "f", "j"], "as": ["s", "v"]}],
      "mark": {"type": "line", "interpolate": "monotone"},
      "encoding": {
        "x": {"field": "h", "type": "quantitative", "scale": {"domain": [0, 336], "nice": false, "zero": false},
              "axis": {"values": [0, 48, 96, 144, 192, 240, 288, 336], "labelExpr": "datum.value == 0 ? '15/Jul, 2017' : (15 + datum.value / 24) + '/Jul'", "title": null}},
        "y": {"field": "v", "type": "quantitative", "scale": {"domain": [-0.756, 0.527], "nice": false, "zero": false},
              "axis": {"values": [-0.6, -0.4, -0.2, 0, 0.2, 0.4], "format": ".1f", "title": "Elevation (m)"}},
        "color": {"field": "s", "type": "nominal", "scale": {"domain": ["o", "f", "j"], "range": ["#ff0000", "#008000", "#0000ff"]}, "legend": null},
        "strokeDash": {"field": "s", "type": "nominal", "scale": {"domain": ["o", "f", "j"], "range": [[15, 3.8, 2.4, 3.8], [1, 0], [1, 0]]}, "legend": null},
        "strokeWidth": {"field": "s", "type": "nominal", "scale": {"domain": ["o", "f", "j"], "range": [2, 0.9, 0.9]}, "legend": null}
      }
    },
    {
      "title": "station:South Port Everglades(8722956) (datum:xGEOID)",
      "width": 1970, "height": 326,
      "data": {"name": "p5"},
      "transform": [{"fold": ["f", "j"], "as": ["s", "v"]}],
      "mark": {"type": "line", "interpolate": "monotone"},
      "encoding": {
        "x": {"field": "h", "type": "quantitative", "scale": {"domain": [0, 336], "nice": false, "zero": false},
              "axis": {"values": [0, 48, 96, 144, 192, 240, 288, 336], "labelExpr": "datum.value == 0 ? '15/Jul, 2017' : (15 + datum.value / 24) + '/Jul'", "title": null}},
        "y": {"field": "v", "type": "quantitative", "scale": {"domain": [-0.863, 0.576], "nice": false, "zero": false},
              "axis": {"values": [-0.8, -0.6, -0.4, -0.2, 0, 0.2, 0.4], "format": ".1f", "title": null}},
        "color": {"field": "s", "type": "nominal", "scale": {"domain": ["o", "f", "j"], "range": ["#ff0000", "#008000", "#0000ff"]}, "legend": null},
        "strokeDash": {"field": "s", "type": "nominal", "scale": {"domain": ["o", "f", "j"], "range": [[15, 3.8, 2.4, 3.8], [1, 0], [1, 0]]}, "legend": null},
        "strokeWidth": {"field": "s", "type": "nominal", "scale": {"domain": ["o", "f", "j"], "range": [2, 0.9, 0.9]}, "legend": null}
      }
    },
    {
      "title": "station:Lake Worth Pier(8722670) (datum:xGEOID)",
      "width": 1972, "height": 326,
      "data": {"name": "p6"},
      "transform": [{"fold": ["o", "f", "j"], "as": ["s", "v"]}],
      "mark": {"type": "line", "interpolate": "monotone"},
      "encoding": {
        "x": {"field": "h", "type": "quantitative", "scale": {"domain": [0, 336], "nice": false, "zero": false},
              "axis": {"values": [0, 48, 96, 144, 192, 240, 288, 336], "labelExpr": "datum.value == 0 ? '15/Jul, 2017' : (15 + datum.value / 24) + '/Jul'", "title": null}},
        "y": {"field": "v", "type": "quantitative", "scale": {"domain": [-0.969, 0.628], "nice": false, "zero": false},
              "axis": {"values": [-0.8, -0.6, -0.4, -0.2, 0, 0.2, 0.4, 0.6], "format": ".1f", "title": "Elevation (m)"}},
        "color": {"field": "s", "type": "nominal", "scale": {"domain": ["o", "f", "j"], "range": ["#ff0000", "#008000", "#0000ff"]}, "legend": null},
        "strokeDash": {"field": "s", "type": "nominal", "scale": {"domain": ["o", "f", "j"], "range": [[15, 3.8, 2.4, 3.8], [1, 0], [1, 0]]}, "legend": null},
        "strokeWidth": {"field": "s", "type": "nominal", "scale": {"domain": ["o", "f", "j"], "range": [2, 0.9, 0.9]}, "legend": null}
      }
    },
    {
      "title": "station:Trident Pier(8721604) (datum:xGEOID)",
      "width": 1970, "height": 326,
      "data": {"name": "p7"},
      "transform": [{"fold": ["o", "f", "j"], "as": ["s", "v"]}],
      "mark": {"type": "line", "interpolate": "monotone"},
      "encoding": {
        "x": {"field": "h", "type": "quantitative", "scale": {"domain": [0, 336], "nice": false, "zero": false},
              "axis": {"values": [0, 48, 96, 144, 192, 240, 288, 336], "labelExpr": "datum.value == 0 ? '15/Jul, 2017' : (15 + datum.value / 24) + '/Jul'", "title": null}},
        "y": {"field": "v", "type": "quantitative", "scale": {"domain": [-1.384, 0.925], "nice": false, "zero": false},
              "axis": {"values": [-1.0, -0.5, 0, 0.5], "format": ".1f", "title": null}},
        "color": {"field": "s", "type": "nominal", "scale": {"domain": ["o", "f", "j"], "range": ["#ff0000", "#008000", "#0000ff"]}, "legend": null},
        "strokeDash": {"field": "s", "type": "nominal", "scale": {"domain": ["o", "f", "j"], "range": [[15, 3.8, 2.4, 3.8], [1, 0], [1, 0]]}, "legend": null},
        "strokeWidth": {"field": "s", "type": "nominal", "scale": {"domain": ["o", "f", "j"], "range": [2, 0.9, 0.9]}, "legend": null}
      }
    },
    {
      "title": "station:Mayport(8720218) (datum:xGEOID)",
      "width": 1972, "height": 326,
      "data": {"name": "p8"},
      "transform": [{"fold": ["o", "f", "j"], "as": ["s", "v"]}],
      "mark": {"type": "line", "interpolate": "monotone"},
      "encoding": {
        "x": {"field": "h", "type": "quantitative", "scale": {"domain": [0, 336], "nice": false, "zero": false},
              "axis": {"values": [0, 48, 96, 144, 192, 240, 288, 336], "labelExpr": "datum.value == 0 ? '15/Jul, 2017' : (15 + datum.value / 24) + '/Jul'", "title": null}},
        "y": {"field": "v", "type": "quantitative", "scale": {"domain": [-1.856, 0.902], "nice": false, "zero": false},
              "axis": {"values": [-1.5, -1.0, -0.5, 0, 0.5], "format": ".1f", "title": "Elevation (m)"}},
        "color": {"field": "s", "type": "nominal", "scale": {"domain": ["o", "f", "j"], "range": ["#ff0000", "#008000", "#0000ff"]}, "legend": null},
        "strokeDash": {"field": "s", "type": "nominal", "scale": {"domain": ["o", "f", "j"], "range": [[15, 3.8, 2.4, 3.8], [1, 0], [1, 0]]}, "legend": null},
        "strokeWidth": {"field": "s", "type": "nominal", "scale": {"domain": ["o", "f", "j"], "range": [2, 0.9, 0.9]}, "legend": null}
      }
    },
    {
      "title": "station:Fernandina Beach(8720030) (datum:xGEOID)",
      "width": 1970, "height": 326,
      "data": {"name": "p9"},
      "transform": [{"fold": ["o", "f", "j"], "as": ["s", "v"]}],
      "mark": {"type": "line", "interpolate": "monotone"},
      "encoding": {
        "x": {"field": "h", "type": "quantitative", "scale": {"domain": [0, 336], "nice": false, "zero": false},
              "axis": {"values": [0, 48, 96, 144, 192, 240, 288, 336], "labelExpr": "datum.value == 0 ? '15/Jul, 2017' : (15 + datum.value / 24) + '/Jul'", "title": null}},
        "y": {"field": "v", "type": "quantitative", "scale": {"domain": [-2.188, 1.263], "nice": false, "zero": false},
              "axis": {"values": [-2.0, -1.5, -1.0, -0.5, 0, 0.5, 1.0], "format": ".1f", "title": null}},
        "color": {"field": "s", "type": "nominal", "scale": {"domain": ["o", "f", "j"], "range": ["#ff0000", "#008000", "#0000ff"]}, "legend": null},
        "strokeDash": {"field": "s", "type": "nominal", "scale": {"domain": ["o", "f", "j"], "range": [[15, 3.8, 2.4, 3.8], [1, 0], [1, 0]]}, "legend": null},
        "strokeWidth": {"field": "s", "type": "nominal", "scale": {"domain": ["o", "f", "j"], "range": [2, 0.9, 0.9]}, "legend": null}
      }
    }
  ],
  "resolve": {
    "scale": {"color": "independent", "strokeDash": "independent", "strokeWidth": "independent"},
    "legend": {"color": "independent", "strokeDash": "independent", "strokeWidth": "independent"}
  },
  "config": {
    "font": "DejaVu Sans",
    "view": {"stroke": "black", "strokeWidth": 1},
    "axis": {"labelFont": "DejaVu Sans", "labelFontSize": 12.5, "labelColor": "black", "tickColor": "black", "tickSize": 4.5, "tickWidth": 1,
             "domain": false, "grid": false, "labelPadding": 4, "titleFont": "DejaVu Sans", "titleFontSize": 12.5, "titleFontWeight": "normal",
             "titleColor": "black", "titlePadding": 2, "labelFlush": false, "labelOverlap": false, "labelBound": false},
    "title": {"font": "DejaVu Sans", "fontSize": 15, "fontWeight": "normal", "color": "black", "anchor": "middle", "offset": 7},
    "legend": {"labelFont": "DejaVu Sans", "labelFontSize": 12.5, "labelColor": "black", "symbolType": "stroke", "symbolSize": 484,
               "fillColor": "white", "strokeColor": "#cccccc", "padding": 5, "cornerRadius": 3, "rowPadding": 0, "offset": 6, "labelOffset": 8}
  }
}
